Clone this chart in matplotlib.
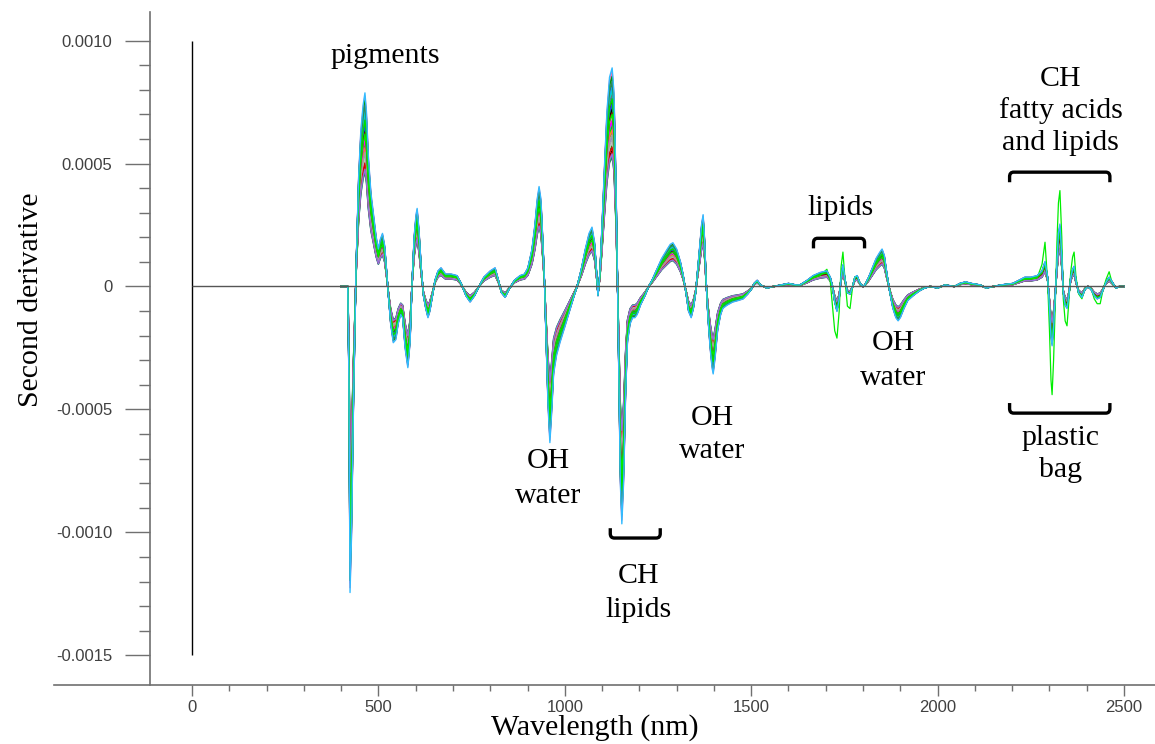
import numpy as np
import matplotlib
matplotlib.use("Agg")
import matplotlib.pyplot as plt
from matplotlib.path import Path
from matplotlib.patches import PathPatch

# mittre spekter (andrederivert, enhet 1e-4), lest av figuren
bolge_nm = [
    400, 418, 421, 424, 428, 433, 440, 447, 453, 459,
    464, 468, 473, 480, 488, 494, 500, 505, 511, 517,
    522, 527, 533, 540, 547, 553, 560, 565, 572, 579,
    585, 590, 596, 601, 604, 609, 615, 621, 627, 633,
    638, 645, 652, 660, 668, 680, 695, 711, 722, 735,
    746, 758, 770, 783, 800, 813, 822, 830, 840, 850,
    865, 880, 892, 901, 912, 920, 926, 931, 936, 941,
    946, 950, 955, 960, 965, 970, 978, 987, 1000, 1015,
    1025, 1033, 1045, 1055, 1065, 1073, 1080, 1085, 1089, 1094,
    1100, 1107, 1113, 1120, 1127, 1132, 1137, 1141, 1145, 1149,
    1153, 1158, 1163, 1168, 1175, 1182, 1188, 1194, 1203, 1215,
    1225, 1234, 1245, 1260, 1275, 1283, 1290, 1300, 1310, 1317,
    1325, 1332, 1339, 1345, 1351, 1357, 1362, 1367, 1371, 1375,
    1379, 1384, 1390, 1395, 1398, 1403, 1410, 1418, 1424, 1435,
    1450, 1465, 1478, 1490, 1500, 1508, 1516, 1525, 1542, 1560,
    1580, 1600, 1620, 1631, 1650, 1666, 1685, 1703, 1712, 1718,
    1724, 1730, 1736, 1741, 1746, 1752, 1758, 1765, 1772, 1778,
    1784, 1792, 1800, 1805, 1815, 1825, 1835, 1845, 1851, 1857,
    1864, 1872, 1880, 1888, 1894, 1900, 1910, 1920, 1934, 1950,
    1965, 1980, 2000, 2020, 2045, 2060, 2075, 2090, 2114, 2130,
    2150, 2170, 2202, 2218, 2234, 2250, 2267, 2280, 2288, 2295,
    2300, 2304, 2307, 2311, 2316, 2320, 2324, 2328, 2333, 2337,
    2342, 2347, 2352, 2357, 2362, 2366, 2371, 2378, 2387, 2395,
    2403, 2412, 2420, 2428, 2436, 2444, 2452, 2460, 2468, 2478,
    2488, 2500]
middel = [
    0, 0, -3.0, -9.8, -8.0, -4.0, 0.5, 3.5, 5.0, 5.8,
    6.2, 5.6, 4.2, 3.0, 2.2, 1.6, 1.2, 1.5, 1.7, 1.3,
    0.5, -0.3, -1.2, -1.8, -1.7, -1.2, -0.9, -1.0, -2.0, -2.6,
    -1.8, 0.0, 1.6, 2.3, 2.5, 1.8, 0.6, -0.3, -0.7, -1.0,
    -0.8, -0.3, 0.2, 0.5, 0.6, 0.4, 0.4, 0.35, 0.1, -0.3,
    -0.5, -0.3, 0.0, 0.3, 0.5, 0.6, 0.2, -0.2, -0.35, -0.1,
    0.2, 0.35, 0.4, 0.6, 1.2, 2.0, 2.8, 3.2, 2.8, 1.5,
    0.0, -1.8, -3.8, -5.0, -4.0, -2.8, -2.2, -1.8, -1.3, -0.7,
    -0.3, 0.0, 0.6, 1.2, 1.7, 1.9, 1.4, 0.5, -0.3, 0.4,
    2.0, 4.0, 5.6, 6.7, 7.0, 6.2, 3.5, 0.5, -3.0, -6.3,
    -7.6, -6.2, -3.5, -1.8, -1.2, -1.0, -1.0, -0.9, -0.6, -0.3,
    0.0, 0.2, 0.5, 0.9, 1.2, 1.35, 1.4, 1.2, 0.8, 0.4,
    -0.2, -0.8, -1.0, -0.7, -0.2, 0.6, 1.3, 2.0, 2.3, 1.5,
    0.2, -1.0, -2.0, -2.6, -2.8, -2.3, -1.4, -0.9, -0.7, -0.6,
    -0.5, -0.45, -0.4, -0.25, -0.1, 0.1, 0.2, 0.05, -0.05, 0.0,
    0.05, 0.1, 0.05, 0.05, 0.2, 0.35, 0.45, 0.5, 0.3, 0.0,
    -0.5, -0.8, -0.4, 0.3, 0.7, 0.2, -0.2, -0.25, 0.0, 0.3,
    0.35, 0.1, 0.0, 0.05, 0.3, 0.6, 0.9, 1.1, 1.2, 1.0,
    0.4, -0.2, -0.7, -1.0, -1.1, -1.0, -0.7, -0.45, -0.3, -0.15,
    -0.05, 0.0, -0.05, 0.05, 0.0, 0.1, 0.15, 0.1, 0.05, -0.05,
    0.0, 0.05, 0.1, 0.2, 0.3, 0.3, 0.35, 0.5, 0.8, 0.3,
    -0.7, -1.6, -1.9, -1.3, -0.2, 0.8, 1.7, 2.0, 1.0, -0.2,
    -0.6, -0.7, -0.3, 0.3, 0.55, 0.65, 0.2, -0.2, -0.35, -0.1,
    0.0, -0.1, -0.3, -0.4, -0.35, -0.1, 0.15, 0.3, 0.15, -0.05,
    0.0, 0.0]
assert len(bolge_nm) == len(middel)

# skalering av hver prøve i forhold til middelet
skala = [1.03, 0.82, 1.17, 0.92, 1.23, 0.76, 1.08, 0.97, 1.20, 0.87,
         1.05, 0.79, 1.13, 0.95, 1.25, 0.90, 1.00, 1.18, 0.78, 1.10,
         0.98, 1.15, 0.85, 1.07, 0.75, 1.21, 0.93, 1.03, 0.84, 1.16,
         0.99, 1.12, 0.91, 1.22, 0.81, 1.06, 0.96, 1.14, 0.88, 1.01,
         1.19, 0.77, 1.09, 1.27]

# avvikende prøve (grønn, plastpose)
avvik_nm = [1703, 1712, 1718, 1724, 1730, 1736, 1741, 1746, 1752, 1758,
            1765, 1772, 1778, 1784, 2280, 2288, 2295, 2300, 2304, 2307,
            2311, 2316, 2320, 2324, 2328, 2333, 2337, 2342, 2347, 2352,
            2357, 2362, 2366, 2371, 2378, 2387, 2420, 2428, 2436, 2452,
            2460]
avvik_verdi = [0.7, 0.2, -0.8, -1.8, -2.1, -1.0, 0.8, 1.4, 0.2, -0.8,
               -0.9, 0.0, 0.4, 0.4, 0.9, 1.8, 0.2, -1.8, -3.8, -4.4,
               -3.0, -0.5, 1.8, 3.4, 3.9, 2.0, -0.5, -1.4, -1.6, -0.6,
               0.6, 1.2, 1.4, 0.4, -0.3, -0.5, -0.5, -0.7, -0.7, 0.3,
               0.6]

farger = ["#ff8c1a", "#00a000", "#e00000", "#1f3fff", "#ff00ff", "#00d0d0",
          "#a0a0a0", "#8b0000", "#2e8b57", "#9370db", "#00e000", "#000000",
          "#c0c0c0", "#1e90ff", "#ff69b4", "#707070"]

x_ticks = [0, 500, 1000, 1500, 2000, 2500]
x_etiketter = ["0", "500", "1000", "1500", "2000", "2500"]
y_ticks = [-0.0015, -0.0010, -0.0005, 0, 0.0005, 0.0010]
y_etiketter = ["-0.0015", "-0.0010", "-0.0005", "0", "0.0005", "0.0010"]

serif = "Liberation Serif"
sans = "Liberation Sans"

fig = plt.figure(figsize=(11.55, 7.44), dpi=100)
ax = fig.add_axes([54 / 1155, 59 / 744, 1101 / 1155, 673 / 744])

x = np.array(bolge_nm, dtype=float)
y = np.array(middel) * 1e-4

for i, s in enumerate(skala[:-1]):
    ax.plot(x, y * s, color=farger[i % len(farger)], lw=1.0)

y_avvik = np.array(middel, dtype=float)
for n, v in zip(avvik_nm, avvik_verdi):
    y_avvik[bolge_nm.index(n)] = v
ax.plot(x, y_avvik * 1e-4, color="#00ee00", lw=0.9)
ax.plot(x, y * skala[-1], color="#33bbff", lw=1.0)

# nullinje og loddrett linje ved 0
ax.hlines(0, 0, 2500, color="#555555", lw=1.0, zorder=5)
ax.vlines(0, -0.0015, 0.0010, color="black", lw=1.0)


def klamme(x0, x1, y_linje, y_ende):
    rx = 11
    ry = (y_ende - y_linje) * 0.45
    verts = [(x0, y_ende), (x0, y_linje + ry), (x0, y_linje), (x0 + rx, y_linje),
             (x1 - rx, y_linje), (x1, y_linje), (x1, y_linje + ry), (x1, y_ende)]
    codes = [Path.MOVETO, Path.LINETO, Path.CURVE3, Path.CURVE3,
             Path.LINETO, Path.CURVE3, Path.CURVE3, Path.LINETO]
    ax.add_patch(PathPatch(Path(verts, codes), fill=False, lw=2.4,
                           color="black", capstyle="butt", zorder=6))


klamme(1122, 1256, -10.23e-4, -9.83e-4)
klamme(1667, 1804, 1.96e-4, 1.55e-4)
klamme(2193, 2462, 4.65e-4, 4.24e-4)
klamme(2193, 2462, -5.15e-4, -4.74e-4)

tekster = [
    (518, 9.08, "pigments"),
    (956, -7.38, "OH"), (956, -8.80, "water"),
    (1197, -12.06, "CH"), (1197, -13.44, "lipids"),
    (1396, -5.64, "OH"), (1396, -6.98, "water"),
    (1740, 2.92, "lipids"),
    (1882, -2.59, "OH"), (1882, -4.01, "water"),
    (2330, 8.14, "CH"), (2330, 6.84, "fatty acids"), (2330, 5.54, "and lipids"),
    (2330, -6.45, "plastic"), (2330, -7.76, "bag"),
]
for tx, ty, t in tekster:
    ax.text(tx, ty * 1e-4, t, ha="center", va="baseline", fontsize=21.5,
            family=serif, color="black", zorder=7)

ax.set_xlim(-370, 2583)
ax.set_ylim(-0.0016207, 0.0011163)

for side in ["top", "right"]:
    ax.spines[side].set_visible(False)
ax.spines["left"].set_position(("data", -112.7))
for side in ["left", "bottom"]:
    ax.spines[side].set_color("#707070")
    ax.spines[side].set_linewidth(1.2)

ax.set_xticks(x_ticks)
ax.set_xticklabels(x_etiketter)
ax.set_xticks([v for v in range(100, 2500, 100) if v % 500], minor=True)
ax.set_yticks(y_ticks)
ax.set_yticklabels(y_etiketter)
ax.set_yticks([v * 1e-4 for v in range(-14, 10) if v % 5], minor=True)

ax.tick_params(axis="x", which="major", direction="out", length=8, width=1,
               color="#707070", pad=3, labelsize=12, labelcolor="#404040")
ax.tick_params(axis="x", which="minor", direction="out", length=4, width=1,
               color="#707070")
ax.tick_params(axis="y", which="major", direction="out", length=18, width=1,
               color="#707070", pad=9, labelsize=12, labelcolor="#404040")
ax.tick_params(axis="y", which="minor", direction="out", length=8, width=1,
               color="#707070")
for lab in ax.get_xticklabels() + ax.get_yticklabels():
    lab.set_family(sans)

fig.text(595 / 1155, 1 - 735 / 744, "Wavelength (nm)", ha="center",
         va="baseline", fontsize=21.5, family=serif)
fig.text(31 / 1155, 1 - 300 / 744, "Second derivative", ha="center",
         va="center", rotation=90, fontsize=21.5, family=serif)

fig.savefig("out.png", dpi=100)
